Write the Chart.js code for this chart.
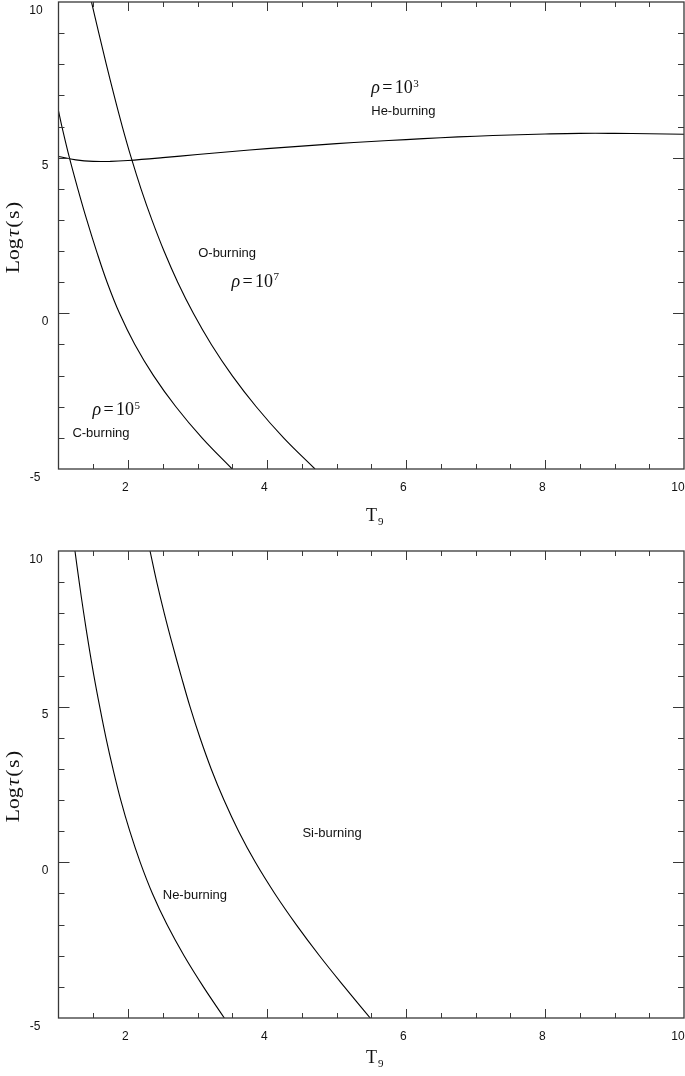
<!DOCTYPE html>
<html>
<head>
<meta charset="utf-8">
<script src="https://cdn.jsdelivr.net/npm/chart.js@4.4.0/dist/chart.umd.min.js"></script>
<style>
  body { margin: 0; background: #fff; width: 685px; height: 1076px; overflow: hidden; position: relative; }
  canvas { position: absolute; left: 0; }
  #topChart { top: 0; }
  #bottomChart { top: 540px; }
</style>
</head>
<body>
<canvas id="topChart" width="685" height="540"></canvas>
<canvas id="bottomChart" width="685" height="536"></canvas>
<script>
// He-burning, rho = 10^3
const heT = [1, 1.25, 1.5, 1.75, 2, 2.5, 3, 3.5, 4, 4.5, 5, 5.5, 6, 6.5, 7, 7.5, 8, 8.5, 9, 9.5, 10];
const heTau = [5.04, 4.93, 4.88, 4.88, 4.91, 5.0, 5.1, 5.2, 5.29, 5.37, 5.45, 5.52, 5.58, 5.64, 5.69, 5.73, 5.76, 5.78, 5.78, 5.77, 5.75];
// C-burning, rho = 10^5
const cT = [1.0, 1.049, 1.157, 1.278, 1.407, 1.547, 1.699, 1.878, 2.098, 2.367, 2.689, 3.065, 3.499];
const cTau = [6.5, 6, 5, 4, 3, 2, 1, 0, -1, -2, -3, -4, -5];
// O-burning, rho = 10^7
const oT = [1.475, 1.58, 1.688, 1.8, 1.918, 2.046, 2.187, 2.344, 2.518, 2.715, 2.94, 3.199, 3.499, 3.845, 4.239, 4.691];
const oTau = [10, 9, 8, 7, 6, 5, 4, 3, 2, 1, 0, -1, -2, -3, -4, -5];
// Ne-burning
const neT = [1.237, 1.298, 1.363, 1.433, 1.509, 1.593, 1.683, 1.784, 1.896, 2.026, 2.176, 2.351, 2.561, 2.807, 3.085, 3.386];
const neTau = [10, 9, 8, 7, 6, 5, 4, 3, 2, 1, 0, -1, -2, -3, -4, -5];
// Si-burning
const siT = [2.317, 2.414, 2.522, 2.639, 2.763, 2.892, 3.036, 3.197, 3.381, 3.591, 3.833, 4.111, 4.42, 4.755, 5.114, 5.485];
const siTau = [10, 9, 8, 7, 6, 5, 4, 3, 2, 1, 0, -1, -2, -3, -4, -5];

// axis ticks
const xLabels = [2, 4, 6, 8, 10];
const yLabels = [-5, 0, 5, 10];

function pts(xs, ys) {
  return xs.map((v, i) => ({ x: v, y: ys[i] }));
}

function curve(xs, ys) {
  return {
    data: pts(xs, ys),
    borderColor: '#000',
    borderWidth: 1.1,
    pointRadius: 0,
    fill: false,
    tension: 0.4
  };
}

function drawRho(ctx, px, py, exp) {
  ctx.textAlign = 'left';
  ctx.font = 'italic 18px "Liberation Serif"';
  ctx.fillText('\u03C1', px, py);
  ctx.font = '18px "Liberation Serif"';
  ctx.fillText('=', px + 11, py);
  ctx.fillText('10', px + 23.5, py);
  ctx.font = '11px "Liberation Serif"';
  ctx.fillText(exp, px + 42, py - 6.5);
}

// y label right edges, as in the original figure
const yLabelRight = { '10': 42.7, '5': 48.3, '0': 48.3, '-5': 40.5 };

const framePlugin = {
  id: 'frame',
  afterDatasetsDraw(chart, args, opts) {
    const { ctx, chartArea: a, scales: { x, y } } = chart;
    ctx.save();
    ctx.strokeStyle = '#383838';
    ctx.lineWidth = 1.3;
    ctx.strokeRect(a.left, a.top, a.right - a.left, a.bottom - a.top);

    ctx.lineWidth = 1;
    ctx.beginPath();
    for (let t = 1.5; t < 10; t += 0.5) {
      const px = Math.round(x.getPixelForValue(t)) + 0.5;
      const len = t % 2 === 0 ? 9 : 5;
      ctx.moveTo(px, a.bottom); ctx.lineTo(px, a.bottom - len);
      ctx.moveTo(px, a.top); ctx.lineTo(px, a.top + len);
    }
    for (let v = -4; v < 10; v++) {
      const py = Math.round(y.getPixelForValue(v)) + 0.5;
      const len = v % 5 === 0 ? 11 : 6;
      ctx.moveTo(a.left, py); ctx.lineTo(a.left + len, py);
      ctx.moveTo(a.right, py); ctx.lineTo(a.right - len, py);
    }
    ctx.stroke();

    ctx.fillStyle = '#111';
    ctx.font = '12px "Liberation Sans"';
    ctx.textBaseline = 'alphabetic';
    ctx.textAlign = 'right';
    xLabels.forEach(t => {
      ctx.fillText(String(t), x.getPixelForValue(t) + 0.7, a.bottom + 22);
    });
    yLabels.forEach(v => {
      ctx.fillText(String(v), yLabelRight[String(v)], y.getPixelForValue(v) + 11.7);
    });

    // T9 title
    ctx.textAlign = 'left';
    ctx.font = '18px "Liberation Serif"';
    ctx.fillText('T', 366, a.bottom + opts.tTitle);
    ctx.font = '11px "Liberation Serif"';
    ctx.fillText('9', 378, a.bottom + opts.tTitle + 4);

    // Log tau(s) title, stretched a little like the original math font
    ctx.save();
    ctx.translate(19, (a.top + a.bottom) / 2 + 2);
    ctx.rotate(-Math.PI / 2);
    ctx.scale(1.2, 1);
    const parts = [['Log', false], ['\u03C4', true], ['(', false], ['s', false], [')', false]];
    const fontOf = it => (it ? 'italic ' : '') + '18px "Liberation Serif"';
    const gap = 1.3;
    let total = 0;
    parts.forEach(p => { ctx.font = fontOf(p[1]); total += ctx.measureText(p[0]).width + gap; });
    total -= gap;
    let cx = -total / 2;
    parts.forEach(p => {
      ctx.font = fontOf(p[1]);
      ctx.fillText(p[0], cx, 0);
      cx += ctx.measureText(p[0]).width + gap;
    });
    ctx.restore();

    // region labels
    (opts.notes || []).forEach(n => {
      const px = x.getPixelForValue(n.t);
      const py = y.getPixelForValue(n.v);
      if (n.exp) {
        drawRho(ctx, px, py, n.exp);
      } else {
        ctx.textAlign = 'left';
        ctx.font = '13px "Liberation Sans"';
        ctx.fillText(n.text, px, py);
      }
    });
    ctx.restore();
  }
};

function makeChart(id, datasets, padding, notes, tTitle) {
  return new Chart(document.getElementById(id), {
    type: 'line',
    data: { datasets: datasets },
    options: {
      responsive: false,
      animation: false,
      events: [],
      layout: { padding: padding },
      plugins: {
        legend: { display: false },
        tooltip: { enabled: false },
        frame: { notes: notes, tTitle: tTitle }
      },
      scales: {
        x: { type: 'linear', min: 1, max: 10, display: false },
        y: { type: 'linear', min: -5, max: 10, display: false }
      }
    },
    plugins: [framePlugin]
  });
}

makeChart('topChart',
  [curve(heT, heTau), curve(cT, cTau), curve(oT, oTau)],
  { left: 58.5, top: 2, right: 1, bottom: 71 },
  [
    { t: 5.50, v: 7.07, exp: '3' },
    { t: 5.50, v: 6.37, text: 'He-burning' },
    { t: 3.01, v: 1.82, text: 'O-burning' },
    { t: 3.49, v: 0.855, exp: '7' },
    { t: 1.49, v: -3.27, exp: '5' },
    { t: 1.20, v: -3.97, text: 'C-burning' }
  ],
  52);

makeChart('bottomChart',
  [curve(neT, neTau), curve(siT, siTau)],
  { left: 58.5, top: 11, right: 1, bottom: 58 },
  [
    { t: 4.51, v: 0.82, text: 'Si-burning' },
    { t: 2.50, v: -1.18, text: 'Ne-burning' }
  ],
  45);
</script>
</body>
</html>
